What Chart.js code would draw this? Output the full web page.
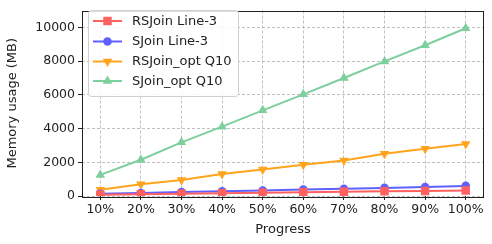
<!DOCTYPE html>
<html><head><meta charset="utf-8">
<script src="https://cdn.jsdelivr.net/npm/chart.js@4/dist/chart.umd.min.js"></script>
<style>html,body{margin:0;padding:0;background:#fff}#wrap{width:492px;height:244px}</style>
</head><body><div id="wrap"><canvas id="c" width="492" height="244"></canvas></div>
<script>
const categories = ['10%','20%','30%','40%','50%','60%','70%','80%','90%','100%'];
const rsjoinLine3 = [70, 100, 130, 160, 190, 220, 250, 275, 300, 330];
const sjoinLine3 = [130, 180, 230, 280, 330, 380, 430, 480, 530, 600];
const rsjoinOptQ10 = [370, 700, 950, 1300, 1570, 1850, 2100, 2500, 2800, 3090];
const sjoinOptQ10 = [1250, 2150, 3180, 4110, 5080, 6030, 7000, 7980, 8940, 9950];
const yTicks = [0, 2000, 4000, 6000, 8000, 10000];
const seriesNames = ['RSJoin Line-3','SJoin Line-3','RSJoin_opt Q10','SJoin_opt Q10'];

const FONT = 'DejaVu Sans';
const toPts = arr => arr.map((v,i)=>({x:i+1,y:v}));
const mk = (label,data,color,style,radius,rot)=>({
  label, data: toPts(data), borderColor: color, backgroundColor: color,
  borderWidth: 2, pointStyle: style, pointRadius: radius, pointHoverRadius: radius,
  pointRotation: rot, pointBorderWidth: 0, tension: 0
});
const datasets = [
  mk(seriesNames[0], rsjoinLine3, '#ff6060', 'rect', 6, 0),
  mk(seriesNames[1], sjoinLine3, '#6060ff', 'circle', 4.3, 0),
  mk(seriesNames[2], rsjoinOptQ10, '#ffa41c', 'triangle', 5.5, 180),
  mk(seriesNames[3], sjoinOptQ10, '#7dcf9e', 'triangle', 5.5, 0)
];

const framePlugin = {
  id:'frame',
  afterDatasetsDraw(chart){
    const {ctx, chartArea:a} = chart;
    ctx.save();
    ctx.strokeStyle='#222'; ctx.lineWidth=1;
    ctx.strokeRect(Math.round(a.left)+0.5, Math.round(a.top)+0.5, Math.round(a.right-a.left)-1, Math.round(a.bottom-a.top));
    // legend
    const bx=88.5, by=10.5, bw=150, bh=86, r=3;
    ctx.fillStyle='rgba(255,255,255,0.85)'; ctx.strokeStyle='#d0d0d0';
    ctx.beginPath();
    ctx.moveTo(bx+r,by); ctx.lineTo(bx+bw-r,by); ctx.arcTo(bx+bw,by,bx+bw,by+r,r);
    ctx.lineTo(bx+bw,by+bh-r); ctx.arcTo(bx+bw,by+bh,bx+bw-r,by+bh,r);
    ctx.lineTo(bx+r,by+bh); ctx.arcTo(bx,by+bh,bx,by+bh-r,r);
    ctx.lineTo(bx,by+r); ctx.arcTo(bx,by,bx+r,by,r); ctx.closePath();
    ctx.fill(); ctx.stroke();
    const ys=[21,41.5,61.5,81];
    chart.data.datasets.forEach((d,i)=>{
      const y=ys[i];
      ctx.strokeStyle=d.borderColor; ctx.lineWidth=2;
      ctx.beginPath(); ctx.moveTo(93,y); ctx.lineTo(122,y); ctx.stroke();
      ctx.fillStyle=d.backgroundColor;
      Chart.helpers.drawPoint(ctx,{pointStyle:d.pointStyle,radius:d.pointRadius,rotation:d.pointRotation,borderWidth:0},107.5,y);
      ctx.fillStyle='#222'; ctx.font='13px "'+FONT+'"'; ctx.textBaseline='middle'; ctx.textAlign='left';
      ctx.fillText(d.label,132,y+0.5);
    });
    ctx.restore();
  }
};

new Chart(document.getElementById('c'),{
  type:'line',
  data:{datasets},
  plugins:[framePlugin],
  options:{
    responsive:false, animation:false, devicePixelRatio:1,
    layout:{padding:{left:0,right:8,top:4,bottom:0}},
    plugins:{legend:{display:false},tooltip:{enabled:false}},
    scales:{
      x:{type:'linear', min:0.55, max:10.45,
        afterBuildTicks(s){ s.ticks = categories.map((c,i)=>({value:i+1})); },
        afterFit(s){ s.height=48; },
        ticks:{callback:(v)=>categories[Math.round(v)-1], color:'#222', font:{family:FONT,size:12.5}, padding:2, maxRotation:0, autoSkip:false},
        grid:{color:'#b0b0b0', lineWidth:0.8, tickLength:4, tickColor:'#222', tickWidth:1, tickBorderDash:[]},
        border:{display:false, dash:[3,2]},
        title:{display:true, text:'Progress', color:'#222', font:{family:FONT,size:13}, padding:{top:0,bottom:7}}
      },
      y:{type:'linear', min:0, max:11000,
        afterBuildTicks(s){ s.ticks = yTicks.map(v=>({value:v})); },
        afterFit(s){ s.width=82; },
        ticks:{color:'#222', font:{family:FONT,size:12.5}, padding:3, callback:v=>String(v)},
        grid:{color:'#b0b0b0', lineWidth:0.8, tickLength:4, tickColor:'#222', tickWidth:1, tickBorderDash:[]},
        border:{display:false, dash:[3,2]},
        title:{display:true, text:'Memory usage (MB)', color:'#222', font:{family:FONT,size:13}, padding:{top:5,bottom:0}}
      }
    }
  }
});
</script></body></html>
